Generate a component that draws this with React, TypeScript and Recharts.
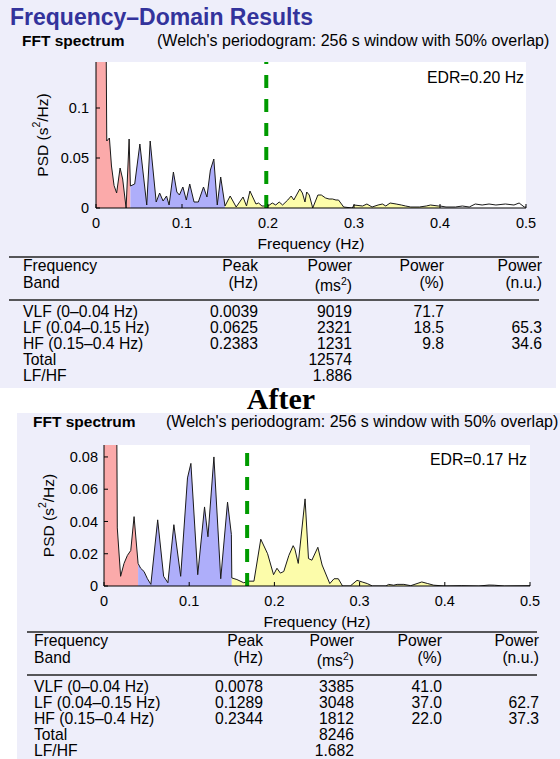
import React from 'react';
import { ComposedChart, Area, Line, XAxis, YAxis, CartesianGrid, ReferenceLine } from 'recharts';

const SANS = '"Liberation Sans", Arial, Helvetica, sans-serif';
const SERIF = '"Liberation Serif", "Times New Roman", serif';

// spectrum before (Hz, s^2/Hz)
const freqBefore = [0, 0.0039, 0.0078, 0.0117, 0.0125, 0.0156, 0.018, 0.021, 0.024, 0.028, 0.031, 0.035, 0.0385, 0.04, 0.045, 0.051, 0.059, 0.063, 0.07, 0.074, 0.078, 0.082, 0.085, 0.09, 0.094, 0.097, 0.101, 0.105, 0.109, 0.114, 0.119, 0.125, 0.129, 0.133, 0.137, 0.141, 0.145, 0.15, 0.156, 0.163, 0.171, 0.175, 0.179, 0.186, 0.189, 0.193, 0.2, 0.205, 0.209, 0.213, 0.217, 0.223, 0.227, 0.23, 0.237, 0.24, 0.243, 0.245, 0.248, 0.252, 0.258, 0.262, 0.267, 0.271, 0.275, 0.279, 0.282, 0.288, 0.298, 0.3, 0.31, 0.315, 0.321, 0.328, 0.333, 0.337, 0.342, 0.349, 0.355, 0.36, 0.366, 0.376, 0.384, 0.389, 0.398, 0.4, 0.407, 0.418, 0.426, 0.434, 0.441, 0.449, 0.457, 0.465, 0.476, 0.486, 0.492, 0.498, 0.5];
const psdBefore = [0.35, 0.62, 0.41, 0.18, 0.067, 0.07, 0.042, 0.0225, 0.015, 0.04, 0.029, 0, 0.069, 0.022, 0.024, 0.064, 0.003, 0.067, 0.006, 0.015, 0.007, 0.012, 0.003, 0.036, 0.016, 0.013, 0.021, 0.008, 0.024, 0.006, 0.006, 0.021, 0.011, 0.038, 0.049, 0.003, 0.031, 0.002, 0.012, 0.001, 0.011, 0.002, 0.017, 0.004, 0.005, 0.002, 0.002, 0.005, 0.003, 0.006, 0.003, 0.008, 0.012, 0.008, 0.019, 0.015, 0.006, 0.016, 0.013, 0, 0.013, 0.013, 0.01, 0.009, 0.009, 0.008, 0.008, 0.001, 0, 0.003, 0.002, 0.004, 0.001, 0.003, 0.004, 0.002, 0.005, 0.004, 0.003, 0.002, 0.001, 0.001, 0.002, 0.003, 0.002, 0.002, 0.001, 0.001, 0.002, 0.001, 0.004, 0.003, 0.004, 0.003, 0.004, 0.003, 0.005, 0.001, 0.001];

// spectrum after
const freqAfter = [0, 0.0039, 0.0078, 0.0117, 0.0156, 0.0195, 0.0235, 0.0275, 0.0314, 0.0353, 0.04, 0.043, 0.047, 0.051, 0.055, 0.063, 0.07, 0.075, 0.082, 0.09, 0.098, 0.102, 0.11, 0.118, 0.122, 0.129, 0.137, 0.145, 0.1495, 0.15, 0.156, 0.164, 0.17, 0.176, 0.184, 0.192, 0.199, 0.203, 0.207, 0.211, 0.217, 0.222, 0.224, 0.228, 0.236, 0.24, 0.244, 0.251, 0.256, 0.265, 0.27, 0.275, 0.28, 0.289, 0.297, 0.303, 0.309, 0.315, 0.331, 0.334, 0.34, 0.344, 0.352, 0.36, 0.373, 0.38, 0.387, 0.4, 0.42, 0.44, 0.452, 0.458, 0.47, 0.5];
const psdAfter = [0.3, 0.5, 0.6, 0.45, 0.036, 0.006, 0.014, 0.019, 0.022, 0.043, 0.014, 0.011, 0.009, 0.0045, 0.001, 0.041, 0.006, 0.002, 0.038, 0.006, 0.067, 0.076, 0.007, 0.049, 0.0305, 0.08, 0.0045, 0.052, 0.032, 0.005, 0.004, 0.002, 0.003, 0.003, 0.029, 0.02, 0.007, 0.011, 0.008, 0.009, 0.019, 0.025, 0.023, 0.014, 0.054, 0.017, 0.016, 0.024, 0.013, 0.0015, 0.0045, 0.0045, 0, 0, 0.0035, 0.0025, 0.0015, 0, 0, 0.001, 0.0005, 0.001, 0.001, 0.0002, 0.0025, 0.0015, 0.0005, 0, 0.0002, 0, 0.0006, 0.0005, 0, 0.0002];

const freqTicks = [0, 0.1, 0.2, 0.3, 0.4, 0.5];
const psdTicksBefore = [0, 0.05, 0.1];
const psdTicksAfter = [0, 0.02, 0.04, 0.06, 0.08];
const edrBefore = 0.198;
const edrAfter = 0.168;

// table
const bandNames = ['VLF (0\u20130.04 Hz)', 'LF (0.04\u20130.15 Hz)', 'HF (0.15\u20130.4 Hz)', 'Total', 'LF/HF'];
const peakBefore = ['0.0039', '0.0625', '0.2383', '', ''];
const powerMsBefore = ['9019', '2321', '1231', '12574', '1.886'];
const powerPctBefore = ['71.7', '18.5', '9.8', '', ''];
const powerNuBefore = ['', '65.3', '34.6', '', ''];
const peakAfter = ['0.0078', '0.1289', '0.2344', '', ''];
const powerMsAfter = ['3385', '3048', '1812', '8246', '1.682'];
const powerPctAfter = ['41.0', '37.0', '22.0', '', ''];
const powerNuAfter = ['', '62.7', '37.3', '', ''];

function buildRows(freq: number[], psd: number[]) {
  return freq.map((f, i) => ({
    f,
    psd: psd[i],
    vlf: f <= 0.04 ? psd[i] : null,
    lf: f >= 0.04 && f <= 0.15 ? psd[i] : null,
    hf: f >= 0.15 && f <= 0.4 ? psd[i] : null,
  }));
}

const psdLabel = (cx: number) => (props: any) => {
  const vb = props.viewBox || { y: 0, height: 0 };
  const cy = vb.y + vb.height / 2;
  return (
    <text x={cx} y={cy} transform={`rotate(-90 ${cx} ${cy})`} textAnchor="middle" dominantBaseline="central"
      fontFamily={SANS} fontSize={15.5} fill="#000">
      PSD (s<tspan dy={-6} fontSize={10.5}>2</tspan><tspan dy={6}>/Hz)</tspan>
    </text>
  );
};

interface SpectrumProps {
  rows: any[];
  yMax: number;
  yTicks: number[];
  edr: number;
  plotLeft: number;
  plotRight: number;
  plotTop: number;
  plotBottom: number;
  height: number;
  yLabelX: number;
  yTickMargin: number;
}

function Spectrum({ rows, yMax, yTicks, edr, plotLeft, plotRight, plotTop, plotBottom, height, yLabelX, yTickMargin }: SpectrumProps) {
  const W = 560;
  const tickStyle = { fill: '#000', fontSize: 14.5, fontFamily: SANS };
  return (
    <ComposedChart width={W} height={height} data={rows}
      margin={{ top: plotTop, right: W - plotRight, left: 0, bottom: height - plotBottom - 26 }}>
      <CartesianGrid horizontal={false} vertical={false} fill="#fff" />
      <XAxis dataKey="f" type="number" domain={[0, 0.5]} ticks={freqTicks} interval={0} allowDataOverflow
        height={26} tickSize={-4} tickMargin={14} stroke="#000" tick={tickStyle}
        label={{ value: 'Frequency (Hz)', position: 'bottom', offset: 4, fill: '#000', fontSize: 15.5, fontFamily: SANS }} />
      <XAxis xAxisId="top" orientation="top" dataKey="f" type="number" domain={[0, 0.5]} ticks={freqTicks}
        interval={0} allowDataOverflow height={0} tick={false} tickSize={-4} stroke="#000" />
      <YAxis type="number" domain={[0, yMax]} ticks={yTicks} interval={0} allowDataOverflow width={plotLeft}
        tickSize={-4} tickMargin={yTickMargin} stroke="#000" tick={tickStyle}
        label={{ content: psdLabel(yLabelX) }} />
      <YAxis yAxisId="right" orientation="right" type="number" domain={[0, yMax]} ticks={yTicks} interval={0}
        allowDataOverflow width={0} tick={false} tickSize={-4} stroke="#000" />
      <Area type="linear" dataKey="vlf" stroke="none" fill="#fbaaaa" fillOpacity={1} dot={false} activeDot={false} isAnimationActive={false} />
      <Area type="linear" dataKey="lf" stroke="none" fill="#aeaefa" fillOpacity={1} dot={false} activeDot={false} isAnimationActive={false} />
      <Area type="linear" dataKey="hf" stroke="none" fill="#fcfcaa" fillOpacity={1} dot={false} activeDot={false} isAnimationActive={false} />
      <Line type="linear" dataKey="psd" stroke="#1a1a1a" strokeWidth={1} dot={false} activeDot={false} isAnimationActive={false} />
      <ReferenceLine x={edr} stroke="#009a00" strokeWidth={4} strokeDasharray="13 11" />
    </ComposedChart>
  );
}

interface TableProps {
  top: number;
  x0: number;
  lineX: [number, number];
  cols: number[];
  peak: string[];
  ms: string[];
  pct: string[];
  nu: string[];
}

function BandTable({ top, x0, lineX, cols, peak, ms, pct, nu }: TableProps) {
  const h1 = top + 14;
  const h2 = top + 31;
  const rule2 = top + 43;
  const r0 = top + 60;
  const step = 16;
  const t = { fontFamily: SANS, fontSize: 15.7, fill: '#000' };
  return (
    <g>
      <line x1={lineX[0]} x2={lineX[1]} y1={top} y2={top} stroke="#222" strokeWidth={1.5} />
      <line x1={lineX[0]} x2={lineX[1]} y1={rule2} y2={rule2} stroke="#222" strokeWidth={1.5} />
      <text x={x0} y={h1} {...t}>Frequency</text>
      <text x={x0} y={h2} {...t}>Band</text>
      <text x={cols[0]} y={h1} textAnchor="end" {...t}>Peak</text>
      <text x={cols[0]} y={h2} textAnchor="end" {...t}>(Hz)</text>
      <text x={cols[1]} y={h1} textAnchor="end" {...t}>Power</text>
      <text x={cols[1]} y={h2 + 3} textAnchor="end" {...t}>(ms<tspan dy={-6} fontSize={10.5}>2</tspan><tspan dy={6}>)</tspan></text>
      <text x={cols[2]} y={h1} textAnchor="end" {...t}>Power</text>
      <text x={cols[2]} y={h2} textAnchor="end" {...t}>(%)</text>
      <text x={cols[3]} y={h1} textAnchor="end" {...t}>Power</text>
      <text x={cols[3]} y={h2} textAnchor="end" {...t}>(n.u.)</text>
      {bandNames.map((name, i) => (
        <g key={name}>
          <text x={x0} y={r0 + i * step} {...t}>{name}</text>
          <text x={cols[0]} y={r0 + i * step} textAnchor="end" {...t}>{peak[i]}</text>
          <text x={cols[1]} y={r0 + i * step} textAnchor="end" {...t}>{ms[i]}</text>
          <text x={cols[2]} y={r0 + i * step} textAnchor="end" {...t}>{pct[i]}</text>
          <text x={cols[3]} y={r0 + i * step} textAnchor="end" {...t}>{nu[i]}</text>
        </g>
      ))}
    </g>
  );
}

export default function App() {
  const rowsBefore = buildRows(freqBefore, psdBefore);
  const rowsAfter = buildRows(freqAfter, psdAfter);
  const panel = '#eeeefa';
  return (
    <div style={{ position: 'absolute', left: 0, top: 0, width: 560, height: 759, background: '#fff', overflow: 'hidden' }}>
      <div style={{ position: 'absolute', left: 0, top: 0, width: 556, height: 388, background: panel }} />
      <div style={{ position: 'absolute', left: 17, top: 413, width: 543, height: 346, background: panel }} />
      <div style={{ position: 'absolute', left: 0, top: 50 }}>
        <Spectrum rows={rowsBefore} yMax={0.146} yTicks={psdTicksBefore} edr={edrBefore}
          plotLeft={96} plotRight={526} plotTop={12} plotBottom={158} height={206} yLabelX={42} yTickMargin={11} />
      </div>
      <div style={{ position: 'absolute', left: 0, top: 433 }}>
        <Spectrum rows={rowsAfter} yMax={0.0874} yTicks={psdTicksAfter} edr={edrAfter}
          plotLeft={104} plotRight={530} plotTop={12} plotBottom={153} height={202} yLabelX={48} yTickMargin={10} />
      </div>
      <svg width={560} height={759} style={{ position: 'absolute', left: 0, top: 0, pointerEvents: 'none' }}>
        <text x={10} y={25} fontFamily={SANS} fontSize={23} fontWeight="bold" fill="#33339c">{'Frequency\u2013Domain Results'}</text>
        <text x={22} y={46} fontFamily={SANS} fontSize={15.5} fontWeight="bold" fill="#000">FFT spectrum</text>
        <text x={157} y={46} fontFamily={SANS} fontSize={16} fill="#000">(Welch's periodogram: 256 s window with 50% overlap)</text>
        <text x={524} y={83} textAnchor="end" fontFamily={SANS} fontSize={15.8} fill="#000">EDR=0.20 Hz</text>
        <BandTable top={257} x0={23} lineX={[9, 539]} cols={[258, 352, 444, 542]}
          peak={peakBefore} ms={powerMsBefore} pct={powerPctBefore} nu={powerNuBefore} />
        <text x={281} y={409} textAnchor="middle" fontFamily={SERIF} fontSize={30} fontWeight="bold" fill="#000">After</text>
        <text x={33} y={427} fontFamily={SANS} fontSize={15.5} fontWeight="bold" fill="#000">FFT spectrum</text>
        <text x={166} y={427} fontFamily={SANS} fontSize={16} fill="#000">(Welch's periodogram: 256 s window with 50% overlap)</text>
        <text x={527} y={465} textAnchor="end" fontFamily={SANS} fontSize={15.8} fill="#000">EDR=0.17 Hz</text>
        <BandTable top={632} x0={34} lineX={[27, 537]} cols={[263, 354, 442, 539]}
          peak={peakAfter} ms={powerMsAfter} pct={powerPctAfter} nu={powerNuAfter} />
      </svg>
    </div>
  );
}
